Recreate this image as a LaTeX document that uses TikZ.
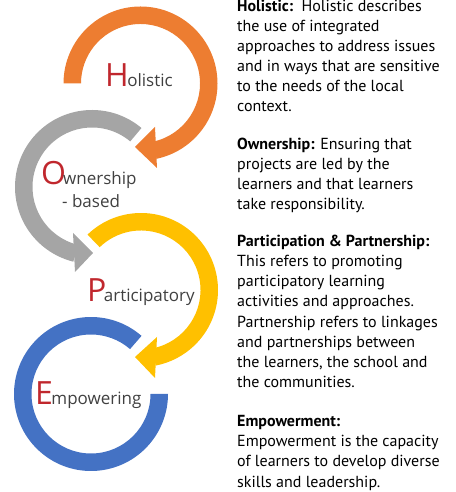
\documentclass[tikz,border=0pt]{standalone}
\usepackage{fontspec}
\setmainfont{PT Sans}
\newfontfamily\labfont{Open Sans}
\usetikzlibrary{calc}
\definecolor{cOrange}{HTML}{ED7D31}
\definecolor{cGray}{HTML}{A5A5A5}
\definecolor{cYellow}{HTML}{FFC000}
\definecolor{cBlue}{HTML}{4472C4}
\definecolor{cRed}{HTML}{C0272D}
\definecolor{cText}{HTML}{404040}
\newcommand\ringband[4]{%
  \fill[#1] ($(#2)+(#3:77)$) arc[start angle=#3,end angle=#4,radius=77]
    -- ($(#2)+(#4:59.5)$) arc[start angle=#4,end angle=#3,radius=59.5] -- cycle;}
\newcommand\capletter[2]{{\color{cRed}\fontsize{32}{32}\selectfont #1}\kern#2pt}
\begin{document}
\begin{tikzpicture}[x=1pt,y=1pt,
  lab/.style={font=\labfont\fontsize{17}{17}\selectfont, text=cText, inner sep=0pt, anchor=base west},
  desc/.style={font=\fontsize{16}{20}\selectfont, text=black, inner sep=0pt, anchor=base west},
]
\useasboundingbox (0,0) rectangle (455,492);
% centres
\coordinate (cH) at (140.5,408.5);
\coordinate (cO) at (92,305);
\coordinate (cP) at (141,202);
\coordinate (cE) at (91,98);
% bands
\ringband{cOrange}{cH}{180}{-78}
\ringband{cGray}{cO}{50}{256}
\ringband{cYellow}{cP}{134}{-79}
\ringband{cBlue}{cE}{49}{360}
% arrow heads
\coordinate (hA) at (155,365); \coordinate (hT) at (135,345); \coordinate (hB) at (157,324);
\fill[cOrange] (hA) -- (hT) -- (hB) -- cycle;
\coordinate (oA) at (73,259); \coordinate (oT) at (93,239); \coordinate (oB) at (75,220);
\fill[cGray] (oA) -- (oT) -- (oB) -- cycle;
\coordinate (pA) at (157,155); \coordinate (pT) at (135,135); \coordinate (pB) at (155,114);
\fill[cYellow] (pA) -- (pT) -- (pB) -- cycle;
% labels
\node[lab] (lH) at (105,405) {\capletter{H}{-1.5}olistic};
\node[lab] (lO) at (41,307) {\capletter{O}{-3}wnership};
\node[lab] (lO2) at (62,284) {- based};
\node[lab] (lP) at (87,190) {\capletter{P}{-2.5}articipatory};
\node[lab] (lE) at (35,87) {\capletter{E}{-1.5}mpowering};
% descriptions
\node[desc] (d1) at (237,480) {\textbf{Holistic:}\ \ Holistic describes};
\node[desc] (d2) at (237,460) {the use of integrated};
\node[desc] (d3) at (237,440) {approaches to address issues};
\node[desc] (d4) at (237,420) {and in ways that are sensitive};
\node[desc] (d5) at (237,400) {to the needs of the local};
\node[desc] (d6) at (237,380) {context.};
\node[desc] (d7) at (237,342) {\textbf{Ownership:} Ensuring that};
\node[desc] (d8) at (237,322) {projects are led by the};
\node[desc] (d9) at (237,302) {learners and that learners};
\node[desc] (d10) at (237,282) {take responsibility.};
\node[desc] (d11) at (237,245) {\textbf{Participation \& Partnership:}};
\node[desc] (d12) at (237,225) {This refers to promoting};
\node[desc] (d13) at (237,205) {participatory learning};
\node[desc] (d14) at (237,185) {activities and approaches.};
\node[desc] (d15) at (237,164) {Partnership refers to linkages};
\node[desc] (d16) at (237,144) {and partnerships between};
\node[desc] (d17) at (237,124) {the learners, the school and};
\node[desc] (d18) at (237,104) {the communities.};
\node[desc] (d19) at (237,65) {\textbf{Empowerment:}};
\node[desc] (d20) at (237,45) {Empowerment is the capacity};
\node[desc] (d21) at (237,25) {of learners to develop diverse};
\node[desc] (d22) at (237,5) {skills and leadership.};
\end{tikzpicture}
\end{document}
